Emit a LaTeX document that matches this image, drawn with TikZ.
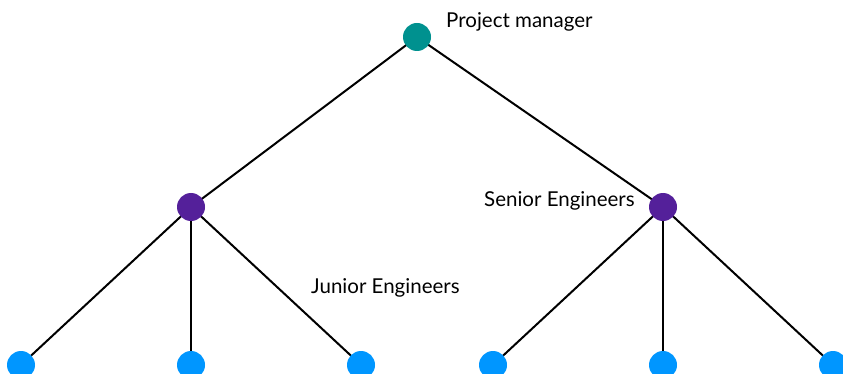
\documentclass[tikz,border=0pt]{standalone}
\usepackage{fontspec}
\setmainfont{Lato}
\usetikzlibrary{backgrounds}
\definecolor{tealc}{RGB}{0,145,143}
\definecolor{purplec}{RGB}{84,32,154}
\definecolor{bluec}{RGB}{0,150,255}
\begin{document}
\begin{tikzpicture}[x=1pt,y=-1pt,
  dot/.style={circle,inner sep=0pt,minimum size=28pt},
  link/.style={draw=black,line width=2pt},
  lbl/.style={font=\fontsize{20.5}{24}\selectfont,inner sep=0pt,anchor=west}]
\useasboundingbox (0,0) rectangle (843,374);
\node[dot,fill=tealc] (rn) at (417,37) {};
\node[dot,fill=purplec] (an) at (191,207) {};
\node[dot,fill=purplec] (bn) at (663,207) {};
\node[dot,fill=bluec] (a1) at (21,365) {};
\node[dot,fill=bluec] (a2) at (191,365) {};
\node[dot,fill=bluec] (a3) at (361,365) {};
\node[dot,fill=bluec] (b1) at (493,365) {};
\node[dot,fill=bluec] (b2) at (663,365) {};
\node[dot,fill=bluec] (b3) at (833,365) {};
\begin{scope}[on background layer]
\draw[link] (rn.center) -- (an.center) (rn.center) -- (bn.center);
\foreach \c in {a1,a2,a3} \draw[link] (an.center) -- (\c.center);
\foreach \c in {b1,b2,b3} \draw[link] (bn.center) -- (\c.center);
\end{scope}
\node[lbl] (t1) at (446,22) {Project manager};
\node[lbl] (t2) at (484,201) {Senior Engineers};
\node[lbl] (t3) at (311,288) {Junior Engineers};
\end{tikzpicture}
\end{document}
